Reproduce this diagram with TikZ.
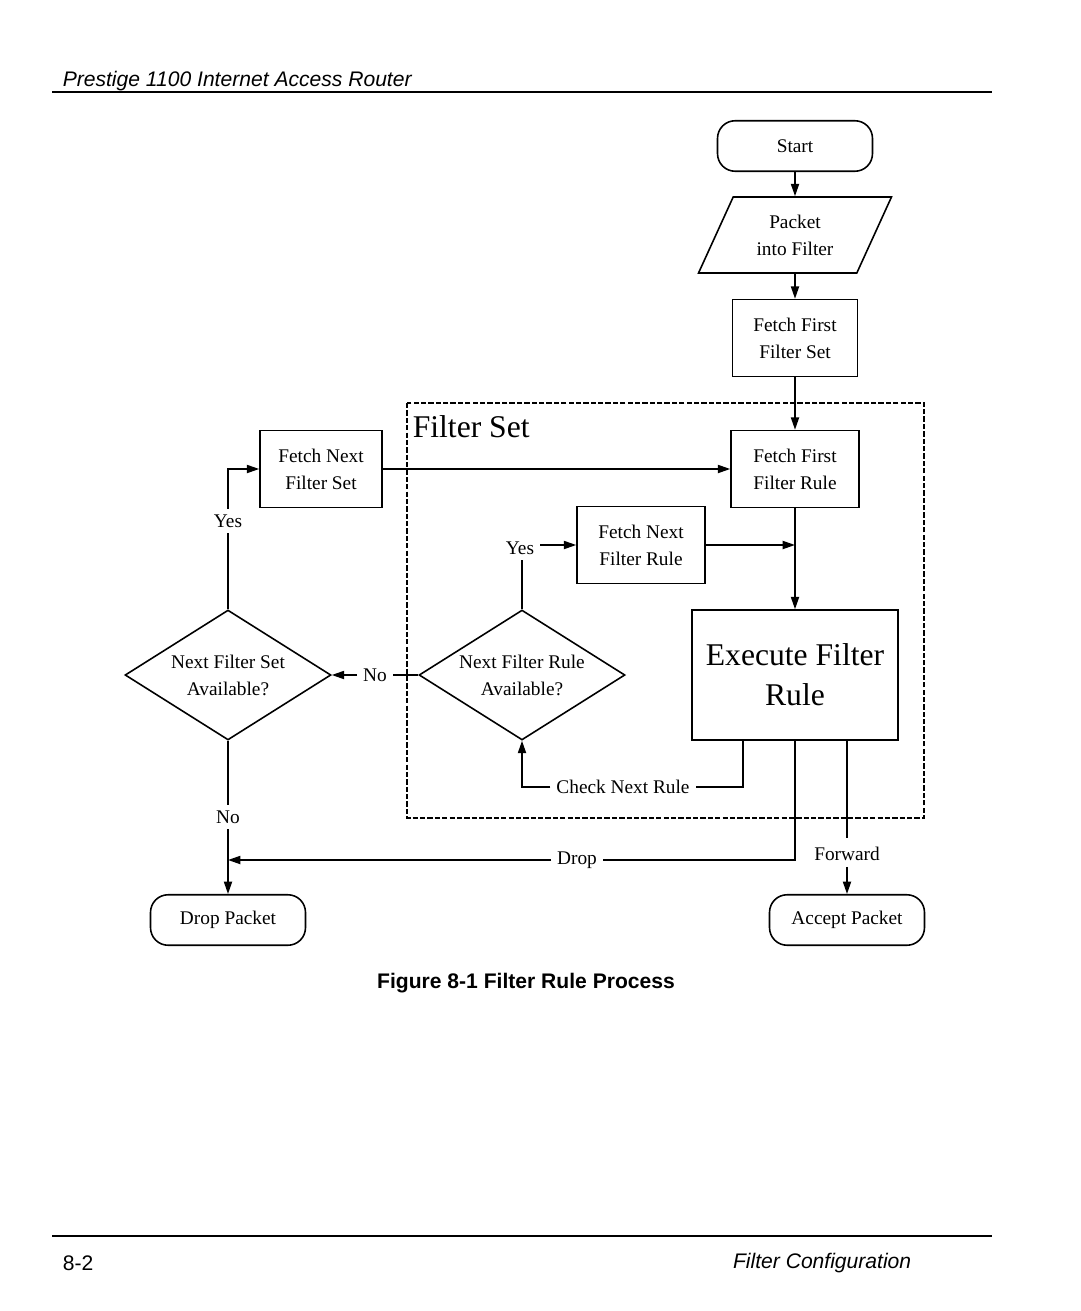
\documentclass[tikz,border=0pt]{standalone}
\usepackage{fontspec}
\setmainfont{Liberation Serif}
\setsansfont{Liberation Sans}
\usetikzlibrary{arrows.meta,shapes.geometric,positioning}

\begin{document}
\begin{tikzpicture}[x=0.02cm,y=-0.02cm,>={Triangle[length=7pt,width=4.6pt]},line width=0.9pt,
  every node/.style={font=\fontsize{11}{15.3}\selectfont,align=center},
  box/.style={draw,rectangle,inner sep=0pt,minimum width=2.5cm,minimum height=1.54cm},
  term/.style={draw,rectangle,rounded corners=10pt,inner sep=0pt,minimum width=3.1cm,minimum height=1.01cm},
  io/.style={draw,trapezium,trapezium left angle=62,trapezium right angle=118,trapezium stretches=true,inner sep=0pt,minimum width=3.88cm,minimum height=1.52cm},
  test/.style={draw,diamond,aspect=1.585,inner sep=0pt,minimum width=4.12cm,minimum height=2.6cm},
  lbl/.style={inner sep=3pt},
  big/.style={font=\fontsize{18}{22.7}\selectfont},
  page/.style={inner sep=0pt,font=\sffamily\fontsize{12}{14}\selectfont},
  frame/.style={dashed,line width=0.7pt,dash pattern=on 3pt off 1.2pt}]
\useasboundingbox (0,0) rectangle (1080,1311);
  % page header and footer
  \node[page,anchor=base west,font=\sffamily\itshape\fontsize{12}{14}\selectfont] (hdr) at (62,87) {Prestige 1100 Internet Access Router};
  \draw[line width=1.2pt] (52,92) -- (992,92);
  \draw[line width=1.2pt] (52,1236) -- (992,1236);
  \node[page,anchor=west] (pg) at (62,1263) {8-2};
  \node[page,anchor=east,font=\sffamily\itshape\fontsize{12}{14}\selectfont] (chap) at (912,1263) {Filter Configuration};
  \node[page,font=\sffamily\bfseries\fontsize{12}{14}\selectfont] (cap) at (526,983) {Figure 8-1 Filter Rule Process};

  % filter set frame
  \draw[frame] (407,403) rectangle (924,818);
  \node[big,anchor=west,inner sep=0pt] (fset) at (412,427) {Filter Set};

  \node[term] (start) at (795,146) {Start};
  \node[io] (pkt) at (795,235) {Packet\\into Filter};
  \node[box] (ffs) at (795,338) {Fetch First\\Filter Set};
  \node[box,minimum width=2.56cm] (ffr) at (795,469) {Fetch First\\Filter Rule};
  \node[box,minimum width=2.44cm] (fns) at (321,469) {Fetch Next\\Filter Set};
  \node[box,minimum width=2.56cm] (fnr) at (641,545) {Fetch Next\\Filter Rule};
  \node[box,big,minimum width=4.12cm,minimum height=2.6cm] (exec) at (795,675) {Execute Filter\\Rule};
  \node[test] (ndr) at (522,675) {Next Filter Rule\\Available?};
  \node[test] (nfs) at (228,675) {Next Filter Set\\Available?};
  \node[term] (dropP) at (228,920) {Drop Packet};
  \node[term] (accP) at (847,920) {Accept Packet};

  % labels on the lines
  \node[lbl] (yesR) at (520,548) {Yes};
  \node[lbl] (noR) at (375,675) {No};
  \node[lbl] (yesS) at (228,521) {Yes};
  \node[lbl] (noS) at (228,817) {No};
  \node[lbl] (chk) at (623,787) {Check Next Rule};
  \node[lbl] (drop) at (577,860) {Drop};
  \node[lbl] (fwd) at (847,854) {Forward};
  \coordinate (join) at (795,545);

\draw[->] (start) -- (pkt);
\draw[->] (pkt) -- (ffs);
\draw[->] (ffs) -- (ffr);
\draw[->] (fns) -- (ffr);
\draw[->] (ffr) -- (exec);
\draw[->] (fnr.east) -- (join);
\draw (ndr.north) -- (yesR.south -| ndr.north);
\draw[->] (yesR.east |- fnr.west) -- (fnr.west);
\draw (ndr.west) -- (noR.east);
\draw[->] (noR.west) -- (nfs.east);
\draw (nfs.north) -- (yesS.south);
\draw[->] (yesS.north) |- (fns.west);
\draw (nfs.south) -- (noS.north);
\draw[->] (noS.south) -- (dropP.north);
\draw ([xshift=-1.04cm]exec.south) |- (chk.east);
\draw[->] (chk.west) -| (ndr.south);
\draw (exec.south) |- (drop.east -| exec.south) -- (drop.east);
\draw[->] (drop.west) -- (drop.west -| nfs.south);
\draw (exec.south -| fwd.north) -- ([yshift=0.06cm]fwd.north);
\draw[->] (fwd.south) -- (accP.north);
\end{tikzpicture}
\end{document}
